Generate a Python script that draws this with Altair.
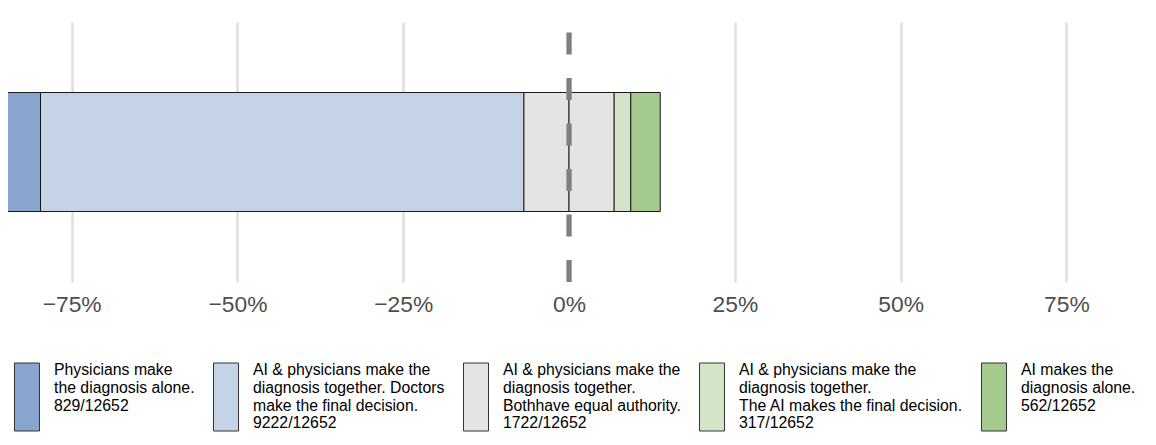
import altair as alt
import pandas as pd

# ---- data ----
categories = [
    "Physicians make|the diagnosis alone.",
    "AI & physicians make the|diagnosis together. Doctors|make the final decision.",
    "AI & physicians make the|diagnosis together.|Bothhave equal authority.",
    "AI & physicians make the|diagnosis together.|The AI makes the final decision.",
    "AI makes the|diagnosis alone.",
]
counts = [829, 9222, 1722, 317, 562]
total = 12652
colors = ["#87A5CD", "#C4D3E6", "#E4E4E4", "#D3E4C8", "#A5CA8E"]
tick_values = [-75, -50, -25, 0, 25, 50, 75]

# legend labels: text lines + fraction, padded to 4 lines
labels = []
for cat, c in zip(categories, counts):
    lines = cat.split("|") + [f"{c}/{total}"]
    while len(lines) < 4:
        lines.append("")
    labels.append("|".join(lines))

# ---- diverging stack (neutral category split around 0) ----
pct = [c / total * 100 for c in counts]
half = pct[2] / 2
rows = []
left_edge = -half
rows.append((labels[1], left_edge - pct[1], left_edge))
rows.append((labels[0], left_edge - pct[1] - pct[0], left_edge - pct[1]))
rows.append((labels[2], -half, 0.0))
rows.append((labels[2], 0.0, half))
rows.append((labels[3], half, half + pct[3]))
rows.append((labels[4], half + pct[3], half + pct[3] + pct[4]))
df = pd.DataFrame(rows, columns=["category", "start", "end"])
df["row"] = "all"

zero_df = pd.DataFrame({"zero": [0]})

W, H = 1140, 260

# tall key: 25 px wide (size 625 -> unit 12.5 px), ~68 px tall, top just above first text line
sym_path = "M-1,-0.56L1,-0.56L1,4.88L-1,4.88Z"

bars = alt.Chart(df).mark_bar(stroke="#1a1a1a", strokeWidth=1, clip=True).encode(
    x=alt.X(
        "start:Q",
        scale=alt.Scale(domain=[-84.6, 87.3], nice=False, zero=False),
        axis=alt.Axis(
            values=tick_values,
            labelExpr="replace(datum.value + '', '-', '\u2212') + '%'",
            grid=True,
            gridColor="#dedede",
            gridWidth=2.5,
            gridOpacity={"condition": {"test": "datum.value === 0", "value": 0}, "value": 1},
            domain=False,
            ticks=False,
            labelFontSize=22.8,
            labelColor="#4d4d4d",
            labelPadding=11,
            labelFont="Liberation Sans",
            title=None,
        ),
    ),
    x2="end:Q",
    y=alt.Y("row:N", axis=None, scale=alt.Scale(paddingInner=0, paddingOuter=0.5924)),
    color=alt.Color(
        "category:N",
        scale=alt.Scale(domain=labels, range=colors),
        legend=alt.Legend(
            orient="none",
            legendX=6,
            legendY=335,
            direction="horizontal",
            columns=5,
            columnPadding=16,
            labelOffset=14,
            symbolType=sym_path,
            symbolSize=625,
            symbolStrokeColor="#333333",
            symbolStrokeWidth=1,
            symbolOpacity=1,
            labelFont="Liberation Sans",
            labelFontSize=15.8,
            labelColor="black",
            labelLimit=500,
            labelBaseline="middle",
            labelExpr="split(datum.label, '|')",
            title=None,
            padding=0,
        ),
    ),
)

zero_line = alt.Chart(zero_df).mark_rule(
    color="#7f7f7f", strokeWidth=5.3, strokeDash=[22, 23.5]
).encode(
    x=alt.X("zero:Q"),
    y=alt.value(H),
    y2=alt.value(0),
)

chart = (
    alt.layer(bars, zero_line)
    .properties(width=W, height=H, padding={"left": 0, "top": 11, "right": 0, "bottom": 0})
    .configure(font="Liberation Sans")
    .configure_view(stroke=None)
)

chart.save("out.html", embed_options={"renderer": "svg", "actions": False})
